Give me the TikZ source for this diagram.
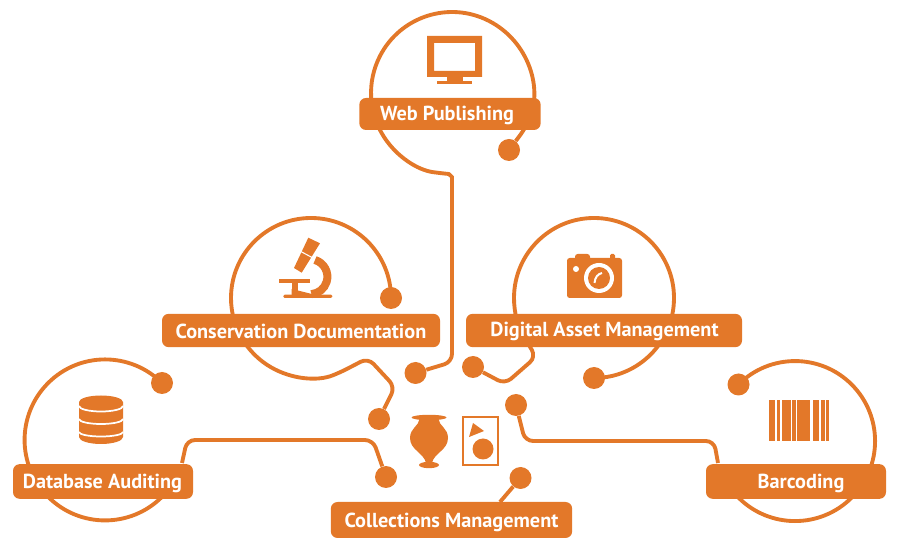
\documentclass[tikz,border=0pt]{standalone}
\usepackage{fontspec}
\setmainfont{PT Sans}
\definecolor{mainOrange}{HTML}{E37829}
\begin{document}
\begin{tikzpicture}[x=0.75pt,y=0.75pt]
\tikzstyle{tag}=[rectangle,fill=mainOrange,rounded corners=5pt,inner sep=0pt]
\tikzstyle{tagText}=[text=white,inner sep=0pt,font=\fontsize{15.2}{17}\selectfont\bfseries]
\tikzstyle{hub}=[circle,fill=mainOrange,minimum size=16.5pt,inner sep=0pt]
\tikzstyle{wire}=[draw=mainOrange,line width=2.9pt,rounded corners=6pt]
\tikzstyle{icon}=[fill=mainOrange]
\useasboundingbox (0,0) rectangle (899,553);

%get dots.
\node[hub] (webHub) at (509,403) {};
\node[hub] (webEnd) at (415.5,180) {};
\node[hub] (consHub) at (391,255) {};
\node[hub] (consEnd) at (379,134) {};
\node[hub] (digHub) at (594,175) {};
\node[hub] (digEnd) at (473,186) {};
\node[hub] (dbHub) at (162,170) {};
\node[hub] (dbEnd) at (386,76) {};
\node[hub] (barHub) at (738.5,168.5) {};
\node[hub] (barEnd) at (516,148) {};
\node[hub] (colEnd) at (520.5,75) {};

%the circles, each running on into its connector.
\draw[wire] (webHub) -- (524.2,423.2) arc[start angle=-27,end angle=262,radius=81] .. controls (449,379) and (452,376) .. (452,368) -- (452,191) -- (webEnd);
\draw[wire] (consHub.center) arc[start angle=0,end angle=291,radius=80] -- (368,195) -- (395,166) -- (consEnd);
\draw[wire] (digHub.center) arc[start angle=-90,end angle=212,radius=80] -- (536,196) -- (505,169) -- (digEnd);
\draw[wire] (dbHub.center) arc[start angle=45,end angle=315,radius=80.5];
\draw[wire] (barHub.center) arc[start angle=135,end angle=-135,radius=80];

\node[tag,minimum width=136pt,minimum height=24pt] (webLabel) at (450,439) {};
\node[tag,minimum width=208.5pt,minimum height=25pt] (consLabel) at (301,222.5) {};
\node[tag,minimum width=207pt,minimum height=25pt] (digLabel) at (604,222.5) {};
\node[tag,minimum width=135pt,minimum height=26pt] (dbLabel) at (103,71.5) {};
\node[tag,minimum width=135pt,minimum height=26pt] (barLabel) at (796,71.5) {};
\node[tag,minimum width=181pt,minimum height=27pt] (colLabel) at (451.5,33) {};

\node[tagText] (webText) at (447,438) {Web Publishing};
\node[tagText] (consText) at (301,222) {Conservation Documentation};
\node[tagText] (digText) at (604.5,222) {Digital Asset Management};
\node[tagText] (dbText) at (102.5,70) {Database Auditing};
\node[tagText] (barText) at (801,70) {Barcoding};
\node[tagText] (colText) at (451.5,31) {Collections Management};

%connectors that leave a label.
\coordinate (dbFoot) at (182,90);
\coordinate (barFoot) at (718,90);
\coordinate (colFoot) at (500,51);
\draw[wire] (dbFoot) -- (187,113) -- (373,113) -- (dbEnd);
\draw[wire] (barFoot) -- (714,112) -- (525,112) -- (barEnd);
\draw[wire] (colFoot) -- (colEnd);

%monitor
\fill[icon,even odd rule] (427,517) rectangle (482,476) (434,510) rectangle (475,482);
\fill[icon] (447,476) rectangle (463,472);
\fill[icon] (437,472) rectangle (472,469);

%microscope
\fill[icon] (308.3,315.3) -- (320,309.7) -- (301.7,280.3) -- (294,285) -- cycle;
\draw[white,line width=0.8pt] (298,303) -- (313,295);
\draw[mainOrange,line width=6pt] (315,293) arc[start angle=73,end angle=-85,radius=17.5];
\fill[icon] (279,274) rectangle (310,270.3);
\fill[icon,rounded corners=1pt] (283.3,258.3) rectangle (332.3,255);
\fill[icon] (291.7,270.3) rectangle (298.3,258.3);
\fill[icon] (291.7,264) -- (312,259) -- (312,258) -- (291.7,258) -- cycle;

%camera
\fill[icon,rounded corners=2pt] (567,295) rectangle (622,255);
\fill[icon,rounded corners=2pt] (575,299) rectangle (590,292);
\fill[icon,rounded corners=1pt] (610,299) rectangle (615,292);
\fill[white] (599,275) circle (15);
\fill[icon] (599,275) circle (11);
\draw[white,line width=1.5pt] (594.5,270) .. controls (595,276) and (598,279) .. (602,280);
\fill[white] (576,284) circle (3);

%database
\fill[icon] (79,151) -- (79,116) arc[start angle=180,end angle=360,x radius=22,y radius=7] -- (123,151) arc[start angle=0,end angle=180,x radius=22,y radius=6.5] -- cycle;
\draw[white,line width=1.3pt] (79,147) arc[start angle=180,end angle=360,x radius=22,y radius=5.5];
\draw[white,line width=1.3pt] (79,134) arc[start angle=180,end angle=360,x radius=22,y radius=5];
\draw[white,line width=1.3pt] (79,121) arc[start angle=180,end angle=360,x radius=22,y radius=4.5];

%barcode
\fill[icon] (769.3,153) rectangle (774.7,112);
\fill[icon] (777,153) rectangle (780.3,112);
\fill[icon] (782,153) rectangle (790.7,112);
\fill[icon] (792,153) rectangle (795.7,112);
\fill[icon] (797,153) rectangle (809.7,112);
\fill[icon] (812.7,153) rectangle (819.3,112);
\fill[icon] (820.7,153) rectangle (824.7,112);
\fill[icon] (826,153) rectangle (828.7,112);

%vase
\fill[icon] (419.5,134) .. controls (419,127) and (410,125) .. (410,115) .. controls (410,103) and (424,100) .. (426,90) -- (432,90) .. controls (434,100) and (448,103) .. (448,115) .. controls (448,125) and (439,127) .. (438.5,134) -- cycle;
\fill[icon] (429,135.5) ellipse (17.5 and 2.7);
\fill[icon] (429,88) ellipse (10 and 3.2);

%frame
\draw[mainOrange,line width=1.8pt] (463,136) rectangle (498,88);
\fill[icon] (473,130) -- (484,122) -- (469,116) -- cycle;
\fill[icon] (483,104) circle (10.5);
\end{tikzpicture}
\end{document}
